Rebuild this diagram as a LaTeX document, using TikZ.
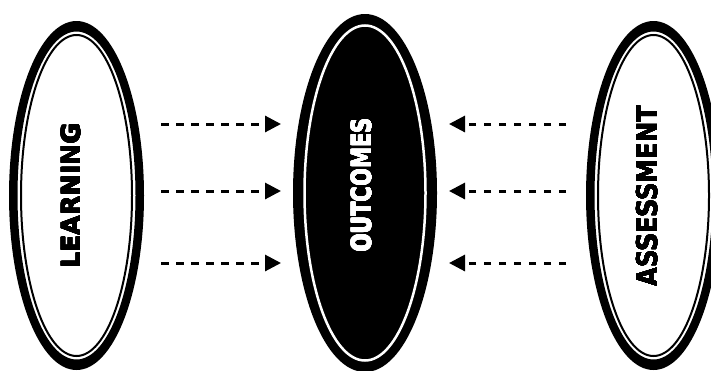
\documentclass[tikz,border=0pt]{standalone}
\usepackage{fontspec}
\usepackage{graphicx}
\usepackage[copies]{contour}
\contourlength{0.2pt}
\contournumber{16}
\newfontfamily\dvsans{DejaVu Sans}
\usetikzlibrary{arrows.meta}
\begin{document}
\begin{tikzpicture}[x=1pt,y=-1pt,
  lbl/.style={font=\dvsans\bfseries, rotate=90, inner sep=0pt},
  conn/.style={line width=3pt, dash pattern=on 7.5pt off 7.5pt, -{Triangle[length=16pt,width=16pt]}}]
\useasboundingbox (0,0) rectangle (711,370);
\clip (0,0) rectangle (711,370);
% LEARNING ellipse
\fill[black, even odd rule] (76.5,195.5) ellipse [x radius=67.5, y radius=174.5]
  (76.5,195.5) ellipse [x radius=59, y radius=164];
\draw[line width=2pt] (76.5,195.5) ellipse [x radius=55.5, y radius=160.5];
% OUTCOMES ellipse
\fill[black] (365,193) ellipse [x radius=72, y radius=179];
\draw[white, line width=2.5pt] (365,193) ellipse [x radius=60.5, y radius=167.5];
% ASSESSMENT ellipse
\fill[black, even odd rule] (653.5,195.5) ellipse [x radius=67.5, y radius=174.5]
  (653.5,195.5) ellipse [x radius=59, y radius=164];
\draw[line width=2pt] (653.5,195.5) ellipse [x radius=55.5, y radius=160.5];
% labels
\node[lbl] (learning) at (71,196) {\fontsize{25.4}{26}\selectfont\contour{black}{LEARNING}};
\node[lbl, text=white] (outcomes) at (361.5,185) {\fontsize{26.8}{27}\selectfont\scalebox{0.79}[1]{\contour{white}{OUTCOMES}}};
\node[lbl] (assessment) at (647,196) {\fontsize{28.5}{29}\selectfont\scalebox{0.85}[1]{\contour{black}{ASSESSMENT}}};
% connector ends
\foreach \i/\y in {1/124,2/191,3/263}{
  \coordinate (la\i) at (161,\y);
  \coordinate (lb\i) at (281,\y);
  \coordinate (ra\i) at (566,\y);
  \coordinate (rb\i) at (449,\y);
  \draw[conn] (la\i) -- (lb\i);
  \draw[conn] (ra\i) -- (rb\i);
}
\end{tikzpicture}
\end{document}
